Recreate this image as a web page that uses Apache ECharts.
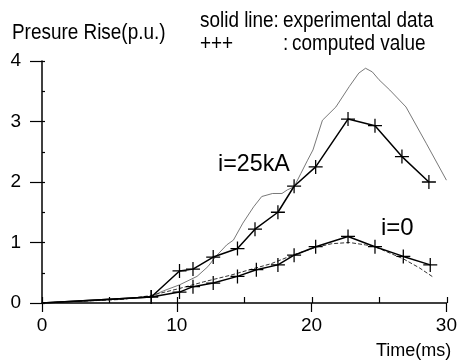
<!DOCTYPE html>
<html><head><meta charset="utf-8">
<script src="https://cdn.jsdelivr.net/npm/echarts@6/dist/echarts.min.js"></script>
<style>html,body{margin:0;padding:0;background:#fff}#c{width:460px;height:364px}</style>
</head><body><div id="c"></div>
<script>
// Data
const comp25X = [0, 8.1, 10.2, 11.2, 12.7, 14.5, 15.8, 17.5, 18.7, 20.3, 22.7, 24.7, 26.7, 28.7];
const comp25Y = [0, 0.10, 0.53, 0.56, 0.76, 0.90, 1.22, 1.50, 1.93, 2.25, 3.04, 2.93, 2.42, 2.00];

const comp0X = [0, 8.1, 10.2, 11.2, 12.7, 14.5, 15.9, 17.5, 18.7, 20.3, 22.7, 24.7, 26.8, 28.8];
const comp0Y = [0, 0.10, 0.18, 0.27, 0.33, 0.44, 0.55, 0.63, 0.79, 0.93, 1.10, 0.93, 0.77, 0.63];

const exp25X = [0, 2, 4, 6, 7, 8.1, 9, 10.2, 11.5, 12.3, 12.9, 13.7, 14.2, 14.9, 15.7, 16.3, 17.1, 17.8, 18.2, 18.7, 19.2, 19.7, 20.1, 20.8, 21.8, 22.8, 23.5, 24.0, 24.5, 25.0, 25.8, 27.0, 28.5, 30.0];
const exp25Y = [0, 0.02, 0.04, 0.07, 0.09, 0.11, 0.20, 0.30, 0.44, 0.60, 0.77, 0.96, 1.04, 1.32, 1.59, 1.76, 1.81, 1.81, 1.87, 1.92, 2.14, 2.36, 2.53, 3.02, 3.24, 3.58, 3.80, 3.88, 3.82, 3.69, 3.52, 3.24, 2.64, 2.03];

const exp0X = [0, 3, 6, 8, 10.2, 12, 14, 15.4, 17, 18.7, 20.3, 21.5, 22.8, 24, 24.7, 26.8, 28, 29];
const exp0Y = [0, 0.03, 0.06, 0.12, 0.24, 0.35, 0.46, 0.55, 0.65, 0.80, 0.92, 0.98, 1.00, 0.96, 0.93, 0.73, 0.58, 0.43];

const FONT = 'Liberation Sans, Arial, sans-serif';
const plus = 'path://M0,4.55H10V5.45H0Z M4.55,0H5.45V10H4.55Z';

function compData(xs, ys) {
  return xs.map((x, i) => i === 0 ? { value: [x, ys[i]], symbol: 'none' } : [x, ys[i]]);
}
function pairs(xs, ys) { return xs.map((x, i) => [x, ys[i]]); }
function label(text, x, y, size, sx) {
  return { type: 'text', x: x, y: y, scaleX: sx, scaleY: 1,
    style: { text: text, font: size + 'px ' + FONT, fill: '#000', align: 'left', verticalAlign: 'middle' } };
}

const chart = echarts.init(document.getElementById('c'), null, { renderer: 'canvas' });
const axisLine = { show: true, onZero: false, lineStyle: { color: '#000', width: 1.5 } };
const gridRect = { left: 42, right: 13, top: 61, bottom: 61 };
chart.setOption({
  animation: false,
  textStyle: { fontFamily: FONT },
  grid: [Object.assign({}, gridRect), Object.assign({}, gridRect)],
  xAxis: [
    { type: 'value', gridIndex: 0, min: 0, max: 30, interval: 10, axisLine,
      axisTick: { show: true, length: 9, lineStyle: { color: '#000', width: 1.2 } },
      axisLabel: { fontSize: 19, color: '#000', margin: 13, fontFamily: FONT },
      splitLine: { show: false } },
    { type: 'value', gridIndex: 1, min: 0, max: 30, interval: 5, position: 'bottom',
      axisLine: { show: false, onZero: false },
      axisTick: { show: true, inside: true, length: 6, lineStyle: { color: '#000', width: 1.2 } },
      axisLabel: { show: false }, splitLine: { show: false } }
  ],
  yAxis: [
    { type: 'value', gridIndex: 0, min: 0, max: 4, interval: 1, axisLine,
      axisTick: { show: true, length: 12, lineStyle: { color: '#000', width: 1.2 } },
      axisLabel: { fontSize: 19, color: '#000', margin: 21, fontFamily: FONT },
      splitLine: { show: false } },
    { type: 'value', gridIndex: 1, min: 0, max: 4, interval: 0.5, position: 'left',
      axisLine: { show: false, onZero: false },
      axisTick: { show: true, inside: true, length: 3, lineStyle: { color: '#000', width: 1.2 } },
      axisLabel: { show: false }, splitLine: { show: false } }
  ],
  series: [
    { type: 'line', data: pairs(exp25X, exp25Y), showSymbol: false, symbol: 'none',
      lineStyle: { color: '#555', width: 0.8 }, z: 2 },
    { type: 'line', data: pairs(exp0X, exp0Y), showSymbol: false, symbol: 'none',
      lineStyle: { color: '#333', width: 1, type: [4, 2] }, z: 2 },
    { type: 'line', data: compData(comp25X, comp25Y), symbol: plus, symbolSize: 14,
      itemStyle: { color: '#000' }, lineStyle: { color: '#000', width: 1.5 }, z: 3 },
    { type: 'line', data: compData(comp0X, comp0Y), symbol: plus, symbolSize: 14,
      itemStyle: { color: '#000' }, lineStyle: { color: '#000', width: 1.5 }, z: 3 }
  ],
  graphic: [
    label('Presure Rise(p.u.)', 12, 33, 22, 0.86),
    label('solid line:', 200, 21, 22, 0.86),
    label('experimental data', 283, 21, 22, 0.86),
    label('+++', 200, 44, 22, 0.86),
    label(':', 283, 44, 22, 0.86),
    label('computed value', 292, 44, 22, 0.86),
    label('i=25kA', 218, 164, 24, 0.97),
    label('i=0', 381, 228, 24, 1.0),
    label('Time(ms)', 376, 351, 18, 1)
  ]
});
</script></body></html>
